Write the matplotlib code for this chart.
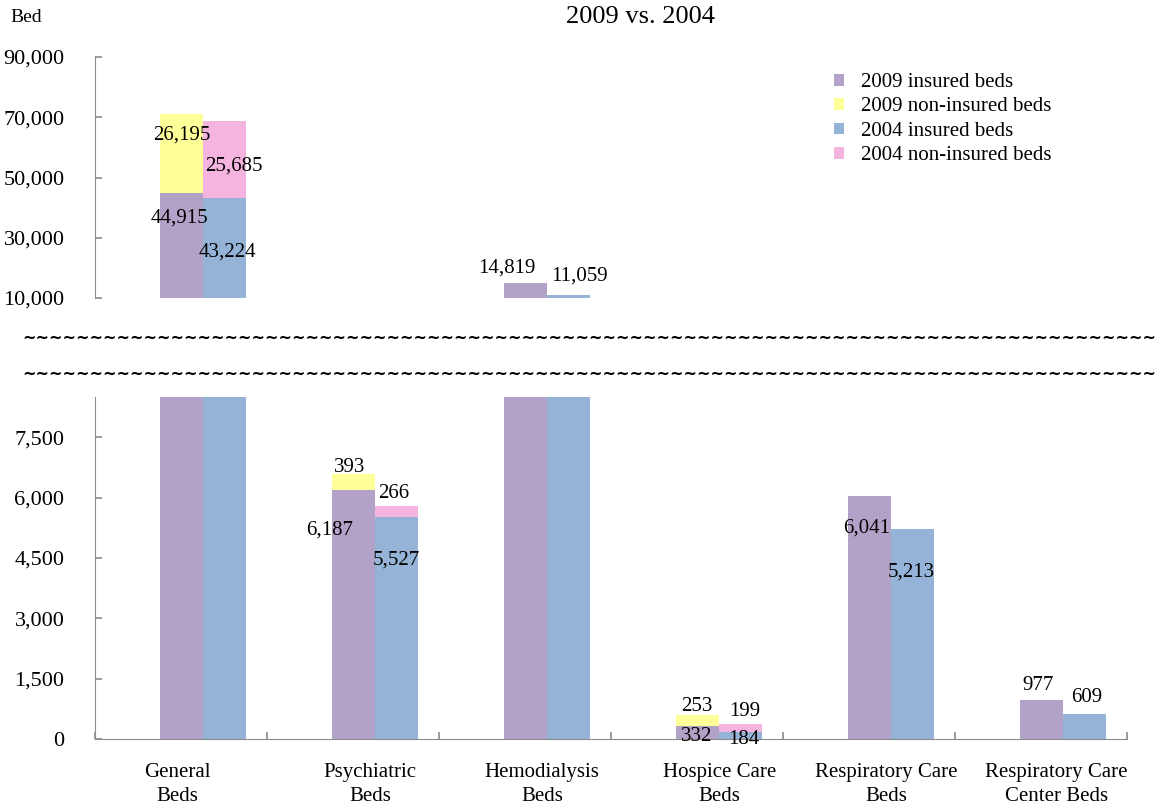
import numpy as np
import matplotlib
matplotlib.use("Agg")
import matplotlib.pyplot as plt
from matplotlib.patches import Patch

plt.rcParams['font.family'] = ['Liberation Serif', 'DejaVu Serif']
plt.rcParams['font.size'] = 15

# data (beds)
categories = ['General\nBeds', 'Psychiatric\nBeds', 'Hemodialysis\nBeds',
              'Hospice Care\nBeds', 'Respiratory Care\nBeds', 'Respiratory Care\nCenter Beds']
ins_2009 = [44915, 6187, 14819, 332, 6041, 977]
non_2009 = [26195, 393, 0, 253, 0, 0]
ins_2004 = [43224, 5527, 11059, 184, 5213, 609]
non_2004 = [25685, 266, 0, 199, 0, 0]
series_names = ['2009 insured beds', '2009 non-insured beds', '2004 insured beds', '2004 non-insured beds']
top_ticks = [10000, 30000, 50000, 70000, 90000]
bot_ticks = [0, 1500, 3000, 4500, 6000, 7500]

colors = ['#B3A2C7', '#FFFF99', '#95B3D7', '#F4B4DF']
spine_col = '#8C8C8C'
w = 0.25

fig = plt.figure(figsize=(11.63, 8.09), dpi=100)
W, H = 1163, 809
L, R = 95 / W, 1127 / W
ax_top = fig.add_axes([L, 1 - 298 / H, R - L, (298 - 57) / H])
ax_bot = fig.add_axes([L, 1 - 739 / H, R - L, (739 - 397) / H])

x = np.arange(len(categories))
for ax in (ax_top, ax_bot):
    ax.bar(x, ins_2009, w, color=colors[0])
    ax.bar(x, non_2009, w, bottom=ins_2009, color=colors[1])
    ax.bar(x + w, ins_2004, w, color=colors[2])
    ax.bar(x + w, non_2004, w, bottom=ins_2004, color=colors[3])
    ax.set_xlim(-0.5, len(categories) - 0.5)
    for s in ('top', 'right'):
        ax.spines[s].set_visible(False)
    ax.spines['left'].set_color(spine_col)
    ax.spines['bottom'].set_color(spine_col)
    ax.tick_params(direction='in', color=spine_col, length=5, width=1.2)
    ax.tick_params(axis='y', pad=22, labelsize=16)

ax_top.set_ylim(10000, 90000)
ax_top.set_yticks(top_ticks)
ax_top.set_yticklabels([f'{t:,}' for t in top_ticks])
ax_top.spines['bottom'].set_visible(False)
ax_top.set_xticks([])

ax_bot.set_ylim(0, 8500)
ax_bot.set_yticks(bot_ticks)
ax_bot.set_yticklabels([f'{t:,}' for t in bot_ticks])
ax_bot.set_xticks(np.arange(len(categories) + 1) - 0.5)
ax_bot.set_xticklabels([])
label_shift = [-0.02, 0.1, 0.1, 0.13, 0.1, 0.09]
ax_bot.set_xticks(x + np.array(label_shift), minor=True)
ax_bot.set_xticklabels(categories, minor=True, linespacing=1.4)
ax_bot.tick_params(axis='x', which='minor', length=0, pad=17)

# data labels (offsets in pixels from segment top)
offsets = {
    0: {0: (-2, -25), 1: (-23, -40), 2: (-18, 15), 3: (0, -11), 4: (-2, -32), 5: (-3, 14)},
    1: {0: (1, -21), 1: (-3, 7), 3: (0, 9)},
    2: {0: (3, -54), 1: (0, -43), 2: (11, 19), 3: (4, -8), 4: (-1, -43), 5: (3, 17)},
    3: {0: (10, -46), 1: (-2, 12), 3: (5, 12)},
}
segs = [(ins_2009, None, 0), (non_2009, ins_2009, 0), (ins_2004, None, w), (non_2004, ins_2004, w)]
for si, (vals, base, dx) in enumerate(segs):
    for ci, v in enumerate(vals):
        if v == 0:
            continue
        top = v + (base[ci] if base else 0)
        ax = ax_top if top > 10000 else ax_bot
        ox, oy = offsets[si][ci]
        ax.annotate(f'{v:,}', (x[ci] + dx, top), xytext=(ox, oy),
                    textcoords='offset pixels', ha='center', va='center',
                    annotation_clip=False)

handles = [Patch(facecolor=c, edgecolor='none') for c in colors]
fig.legend(handles, series_names, loc='upper left', bbox_to_anchor=(834 / W, 1 - 73 / H),
           frameon=False, handlelength=0.5, handleheight=0.5, handletextpad=0.8,
           labelspacing=0.26, borderpad=0, borderaxespad=0, fontsize=15)

fig.text(10 / W, 1 - 17 / H, 'Bed', va='center', ha='left', fontsize=14)
fig.text(640 / W, 1 - 17 / H, '2009 vs. 2004', va='center', ha='center', fontsize=19)

# break marks
for yy in (338, 374):
    fig.text(22 / W, 1 - yy / H, '~' * 84, va='center', ha='left', fontsize=11.5,
             fontweight='bold', family='DejaVu Sans')

fig.savefig('out.png', dpi=100)
